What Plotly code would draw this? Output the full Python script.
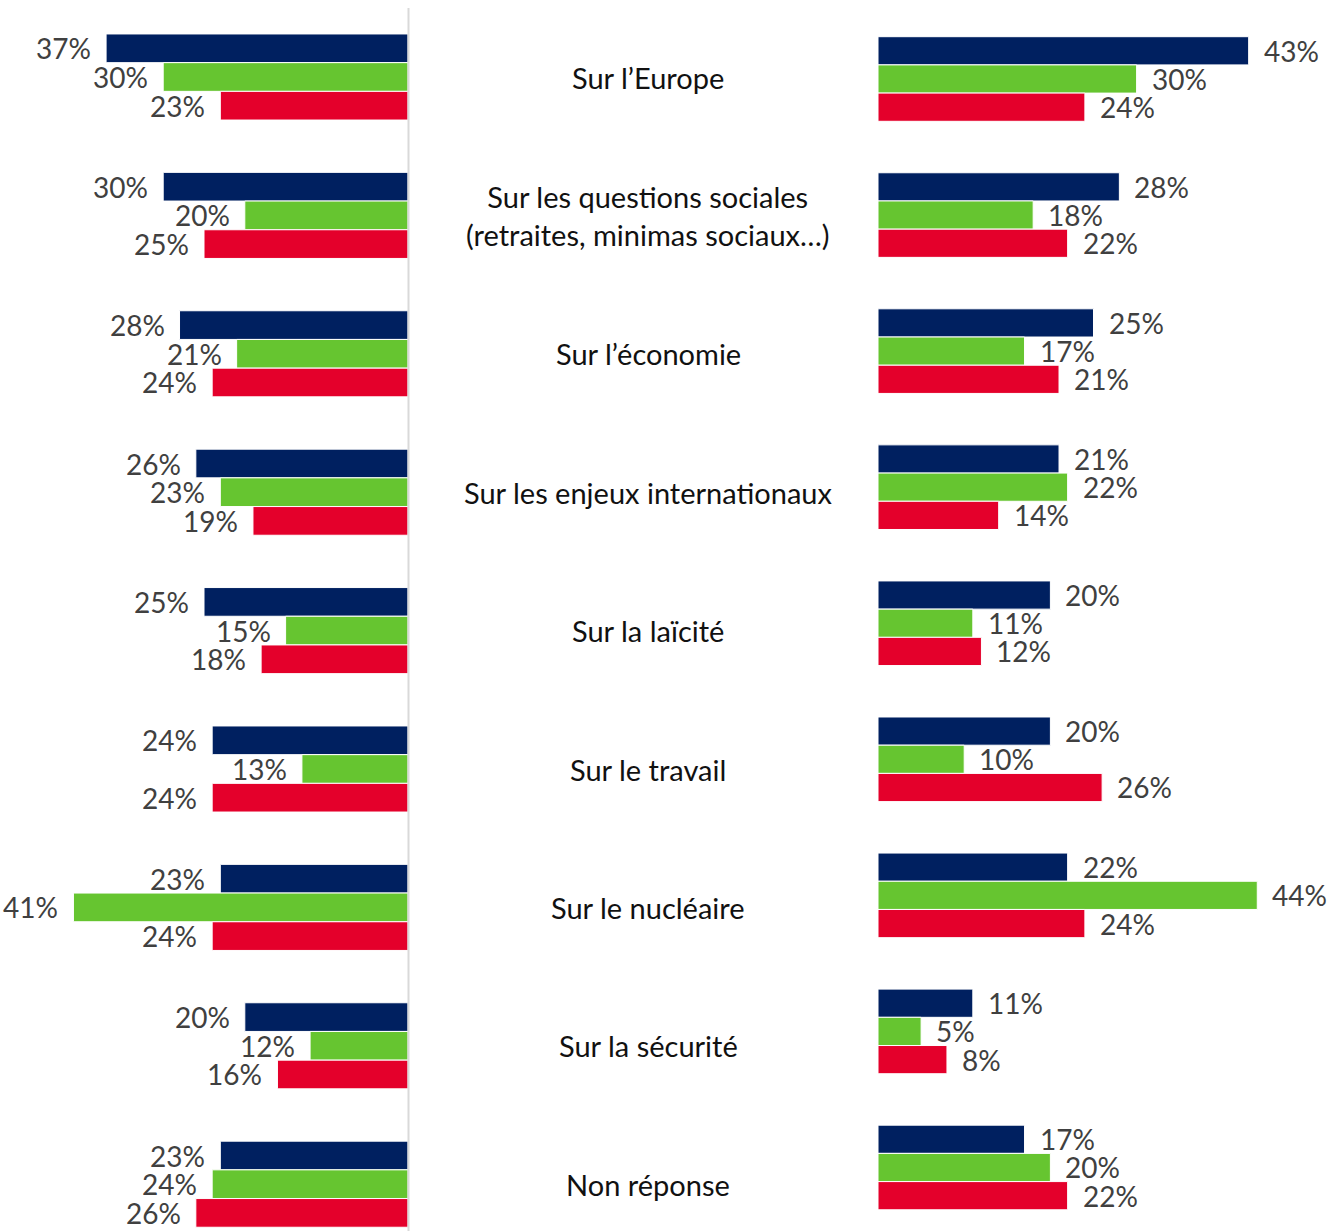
import plotly.graph_objects as go

categories = [
    "Sur l’Europe",
    "Sur les questions sociales<br>(retraites, minimas sociaux…)",
    "Sur l’économie",
    "Sur les enjeux internationaux",
    "Sur la laïcité",
    "Sur le travail",
    "Sur le nucléaire",
    "Sur la sécurité",
    "Non réponse",
]

left_navy = [37, 30, 28, 26, 25, 24, 23, 20, 23]
left_green = [30, 20, 21, 23, 15, 13, 41, 12, 24]
left_red = [23, 25, 24, 19, 18, 24, 24, 16, 26]

right_navy = [43, 28, 25, 21, 20, 20, 22, 11, 17]
right_green = [30, 18, 17, 22, 11, 10, 44, 5, 20]
right_red = [24, 22, 21, 14, 12, 26, 24, 8, 22]

colors = ["#002060", "#66C530", "#E4002B"]

W, H = 1342, 1231
FONT = "Lato"
TXT = "#404040"

idx = list(range(len(categories)))

fig = go.Figure()

left_series = [left_navy, left_green, left_red]
right_series = [right_navy, right_green, right_red]

for k, vals in enumerate(left_series):
    fig.add_trace(go.Bar(
        y=idx, x=vals, orientation="h", xaxis="x", yaxis="y",
        marker=dict(color=colors[k], line=dict(color="white", width=1)),
        offsetgroup=str(k), showlegend=False, hoverinfo="skip",
    ))
for k, vals in enumerate(right_series):
    fig.add_trace(go.Bar(
        y=idx, x=vals, orientation="h", xaxis="x2", yaxis="y2",
        marker=dict(color=colors[k], line=dict(color="white", width=1)),
        offsetgroup=str(k), showlegend=False, hoverinfo="skip",
    ))

bar_w = 0.207
offsets = [-bar_w, 0, bar_w]
annotations = []
for k, vals in enumerate(left_series):
    for i, v in enumerate(vals):
        annotations.append(dict(
            x=v, y=i + offsets[k], xref="x", yref="y", text=f"{v}%",
            showarrow=False, xanchor="right", yanchor="middle", xshift=-13,
            font=dict(family=FONT, size=28, color=TXT),
        ))
for k, vals in enumerate(right_series):
    for i, v in enumerate(vals):
        annotations.append(dict(
            x=v, y=i + offsets[k], xref="x2", yref="y2", text=f"{v}%",
            showarrow=False, xanchor="left", yanchor="middle", xshift=13,
            font=dict(family=FONT, size=28, color=TXT),
        ))
for i, c in enumerate(categories):
    annotations.append(dict(
        x=648 / W, y=i, xref="paper", yref="y", text=c,
        showarrow=False, xanchor="center", yanchor="middle",
        font=dict(family=FONT, size=29, color="#111111"),
    ))

# y mapping (page px): left y=0 at 77, pitch 138.4; right y=0 at 79, pitch 136.06
lp0, lpitch = 77.0, 138.4
rp0, rpitch = 79.0, 136.06
lx0 = 408
rx0 = 878

fig.update_layout(
    width=W, height=H,
    margin=dict(l=0, r=0, t=0, b=0),
    paper_bgcolor="white", plot_bgcolor="white",
    barmode="group", bargap=0.378, bargroupgap=0,
    annotations=annotations,
    xaxis=dict(domain=[0, lx0 / W], range=[lx0 / 8.16, 0], visible=False, fixedrange=True),
    xaxis2=dict(domain=[rx0 / W, 1], range=[0, (W - rx0) / 8.62], visible=False, anchor="y2", fixedrange=True),
    yaxis=dict(domain=[0, 1], range=[(H - lp0) / lpitch, -lp0 / lpitch], visible=False, fixedrange=True),
    yaxis2=dict(domain=[0, 1], range=[(H - rp0) / rpitch, -rp0 / rpitch], visible=False,
                anchor="x2", overlaying="y", fixedrange=True),
    shapes=[dict(type="line", xref="paper", yref="paper",
                 x0=(lx0 + 0.5) / W, x1=(lx0 + 0.5) / W, y0=0, y1=1 - 8 / H,
                 line=dict(color="#D9D9D9", width=2))],
    font=dict(family=FONT),
)

fig.write_html(
    "out.html",
    config={"displayModeBar": False},
    post_script="document.body.style.margin='0';document.body.style.overflow='hidden';",
)
